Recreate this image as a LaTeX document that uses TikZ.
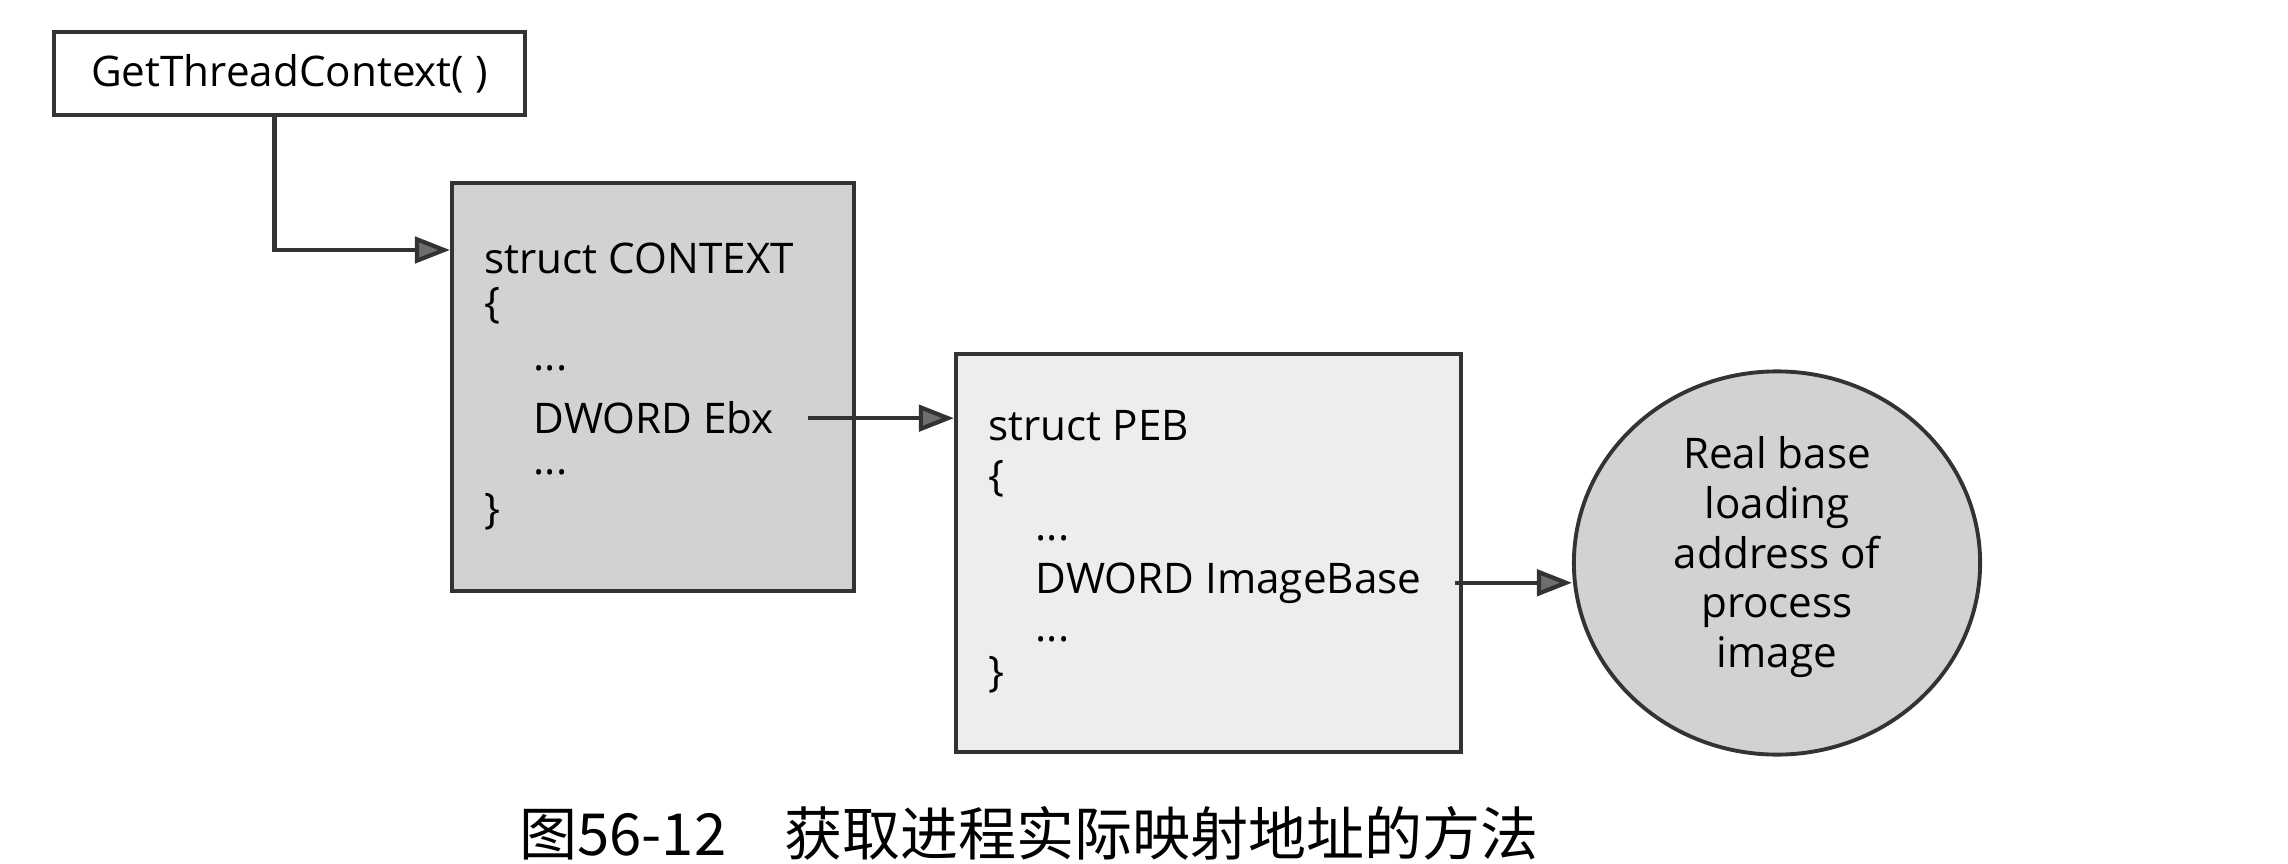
\documentclass[tikz,border=0pt]{standalone}
\usepackage{fontspec}
\setmainfont{Open Sans}
\newfontfamily\cjk{Noto Sans CJK SC}
\usetikzlibrary{arrows.meta,positioning,shapes.geometric}

\definecolor{ctxgray}{HTML}{D2D2D2}
\definecolor{pebgray}{HTML}{EDEDED}
\definecolor{linegray}{HTML}{333333}
\definecolor{tipgray}{HTML}{6E6E6E}

\begin{document}
\begin{tikzpicture}[x=0.01cm,y=-0.01cm,
    every node/.style={font=\fontsize{12}{14.2}\selectfont},
    box/.style={draw=linegray,line width=1.1pt,inner sep=0pt},
    line/.style={anchor=base west,inner sep=0pt},
    conn/.style={draw=linegray,line width=1.2pt,
      -{Triangle[length=10pt,width=7.5pt,fill=tipgray]}}]
      \useasboundingbox (0,0) rectangle (2288,864);

      \node[box,minimum width=4.71cm,minimum height=0.83cm] (gtc) at (289.5,73.5) {GetThreadContext( )};

      \node[box,fill=ctxgray,minimum width=4.02cm,minimum height=4.08cm] (ctx) at (653,387) {};
      \node[line] (ctxhead) at (484,274) {struct CONTEXT};
      \node[line] (ctxopen) at (484,318) {\{};
      \node[line] (ctxdotsa) at (533,371) {...};
      \node[line] (ebx) at (533,434) {DWORD Ebx};
      \node[line] (ctxdotsb) at (533,475) {...};
      \node[line] (ctxclose) at (484,524) {\}};

      \node[box,fill=pebgray,minimum width=5.05cm,minimum height=3.98cm] (peb) at (1208.5,553) {};
      \node[line] (pebhead) at (988,441) {struct PEB};
      \node[line] (pebopen) at (988,491) {\{};
      \node[line] (pebdotsa) at (1035,540) {...};
      \node[line] (imgbase) at (1035,593) {DWORD ImageBase};
      \node[line] (pebdotsb) at (1035,641) {...};
      \node[line] (pebclose) at (988,686) {\}};

      \node[box,ellipse,fill=ctxgray,minimum width=4.06cm,minimum height=3.83cm,align=center] (base) at (1777,563)
        {Real base\\loading\\address of\\process\\image\rule[-0.22cm]{0pt}{0pt}};

      \draw[conn] ([xshift=-0.15cm]gtc.south) |- (ctx.west |- 0,250);
      \draw[conn,shorten <=0.33cm] (ebx.east) -- (ebx.east -| peb.west);
      \draw[conn,shorten <=0.33cm] (imgbase.east) -- (imgbase.east -| base.west);

      \node (cap) at (1029,833) {\cjk\fontsize{16.5}{19}\selectfont 图56-12\quad 获取进程实际映射地址的方法};
\end{tikzpicture}
\end{document}
